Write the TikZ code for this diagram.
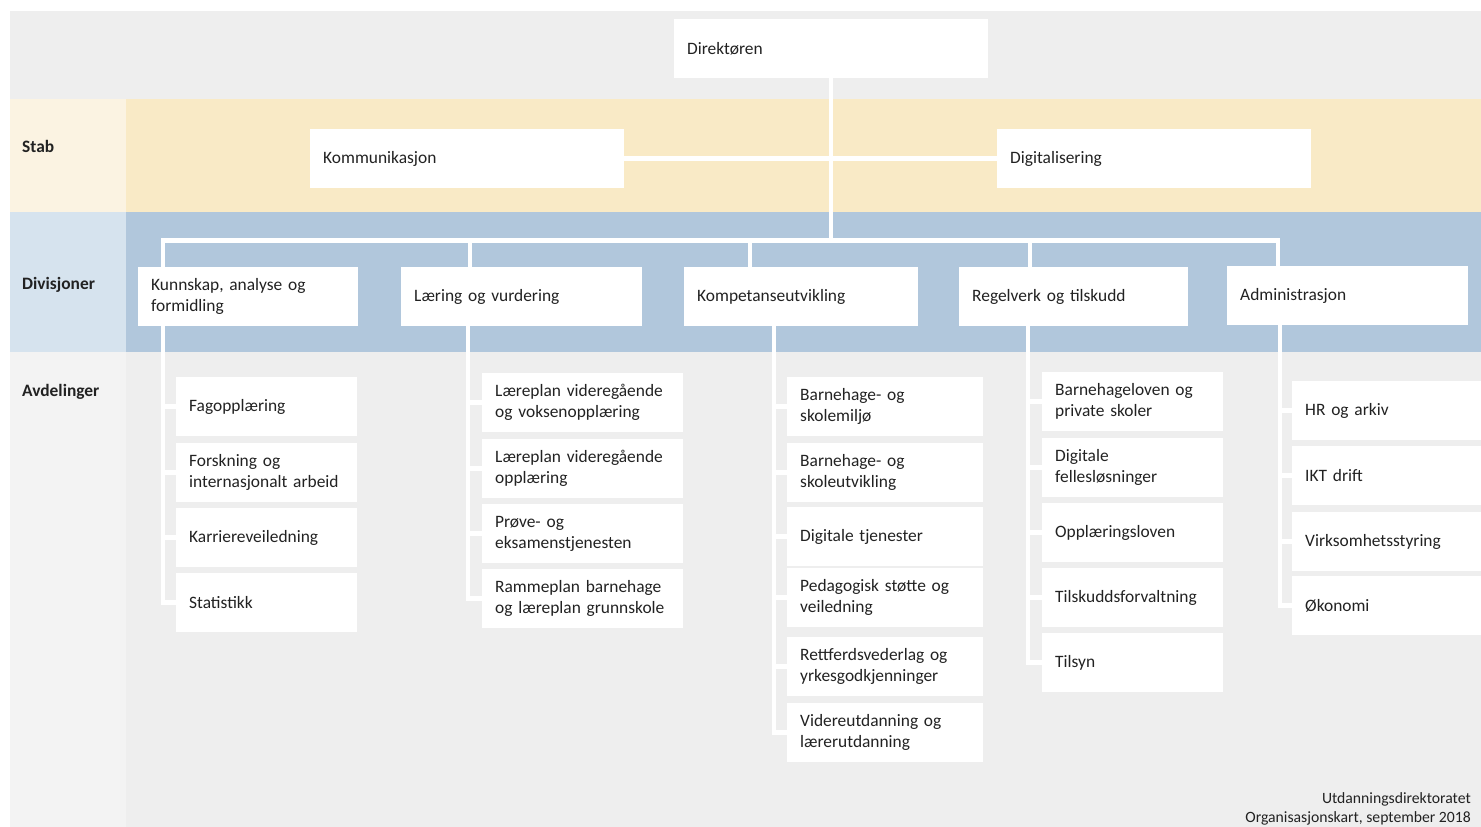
\documentclass[tikz,border=0pt]{standalone}
\usepackage{fontspec}
\setmainfont{Carlito}
\definecolor{bggray}{HTML}{EEEEEE}
\definecolor{avdleft}{HTML}{F3F3F3}
\definecolor{stableft}{HTML}{FBF3E2}
\definecolor{stabmain}{HTML}{F9EAC6}
\definecolor{divleft}{HTML}{D6E3EE}
\definecolor{divmain}{HTML}{B1C7DC}
\definecolor{txt}{HTML}{222222}

\begin{document}
\begin{tikzpicture}[x=1pt,y=-1pt,
    box/.style={fill=white,anchor=north west,inner xsep=13pt,inner ysep=0pt,
        minimum height=59pt,text width=#1,align=left,text=txt,
        font=\fontsize{17.4}{21}\selectfont},
    link/.style={draw=white,line width=4.5pt},
    rowlabel/.style={anchor=west,inner sep=0pt,text=txt,font=\fontsize{17.4}{21}\selectfont\bfseries}]

    \useasboundingbox (0,0) rectangle (1481,827);

    % bands
    \fill[white] (0,0) rectangle (1481,827);
    \fill[bggray] (10,11) rectangle (1481,827);
    \fill[stableft] (10,99) rectangle (126,212);
    \fill[stabmain] (126,99) rectangle (1481,212);
    \fill[divleft] (10,212) rectangle (126,352);
    \fill[divmain] (126,212) rectangle (1481,352);
    \fill[avdleft] (10,352) rectangle (126,827);

    \node[rowlabel] (stab) at (22,146) {Stab};
    \node[rowlabel] (div) at (22,285) {Divisjoner};
    \node[rowlabel] (avd) at (22,392) {Avdelinger};

    % top and stab
    \node[box=288pt] (dir) at (674,19) {Direktøren};
    \node[box=288pt] (kom) at (310,129) {Kommunikasjon};
    \node[box=288pt] (dig) at (997,129) {Digitalisering};

    % divisions
    \node[box=194pt] (kaf) at (138,267) {Kunnskap, analyse og\\formidling};
    \node[box=215pt] (lov) at (401,267) {Læring og vurdering};
    \node[box=208pt] (kut) at (684,267) {Kompetanseutvikling};
    \node[box=203pt] (rot) at (959,267) {Regelverk og tilskudd};
    \node[box=215pt] (adm) at (1227,266) {Administrasjon};

    % departments
    \foreach \t/\y [count=\i] in {Fagopplæring/377,
        {Forskning og\\internasjonalt arbeid}/443,
        Karriereveiledning/508, Statistikk/573}
        \node[box=155pt] (kaf\i) at (176,\y) {\t};
    \foreach \t/\y [count=\i] in {{Læreplan videregående\\og voksenopplæring}/373,
        {Læreplan videregående\\opplæring}/439,
        {Prøve- og\\eksamenstjenesten}/504,
        {Rammeplan barnehage\\og læreplan grunnskole}/569}
        \node[box=175pt] (lov\i) at (482,\y) {\t};
    \foreach \t/\y [count=\i] in {{Barnehage- og\\skolemiljø}/377,
        {Barnehage- og\\skoleutvikling}/443,
        Digitale tjenester/507,
        {Pedagogisk støtte og\\veiledning}/568,
        {Rettferdsvederlag og\\yrkesgodkjenninger}/637,
        {Videreutdanning og\\lærerutdanning}/703}
        \node[box=170pt] (kut\i) at (787,\y) {\t};
    \foreach \t/\y [count=\i] in {{Barnehageloven og\\private skoler}/372,
        {Digitale\\fellesløsninger}/438,
        Opplæringsloven/503, Tilskuddsforvaltning/568, Tilsyn/633}
        \node[box=155pt] (rot\i) at (1042,\y) {\t};
    \foreach \t/\y [count=\i] in {HR og arkiv/381, IKT drift/446,
        Virksomhetsstyring/512, Økonomi/576}
        \node[box=174pt] (adm\i) at (1292,\y) {\t};

    % connectors
    \coordinate (b1) at (163,240.5);
    \coordinate (b2) at (470,240.5);
    \coordinate (b3) at (750,240.5);
    \coordinate (b4) at (1030,240.5);
    \coordinate (b5) at (1278,240.5);
    \draw[link] (dir.south) -- (dir.south |- b1);
    \draw[link] (kom.east) -- (dig.west);
    \draw[link] (b1 |- kaf.north) |- (b5) -- (b5 |- adm.north);
    \foreach \b/\d in {b2/lov,b3/kut,b4/rot}
        \draw[link] (\b) -- (\b |- \d.north);

    \coordinate (d1) at (163,0);
    \coordinate (d2) at (468,0);
    \coordinate (d3) at (774,0);
    \coordinate (d4) at (1028,0);
    \coordinate (d5) at (1280,0);
    \foreach \d/\n/\c in {kaf/4/d1,lov/4/d2,kut/6/d3,rot/5/d4,adm/4/d5}
        \foreach \i in {1,...,\n}
            \draw[link] (\d.south -| \c) |- (\d\i.west);

    \node[anchor=east,align=right,inner sep=0pt,text=txt,font=\fontsize{15.7}{19}\selectfont]
        (foot) at (1471,809) {Utdanningsdirektoratet\\Organisasjonskart, september 2018};
\end{tikzpicture}
\end{document}
